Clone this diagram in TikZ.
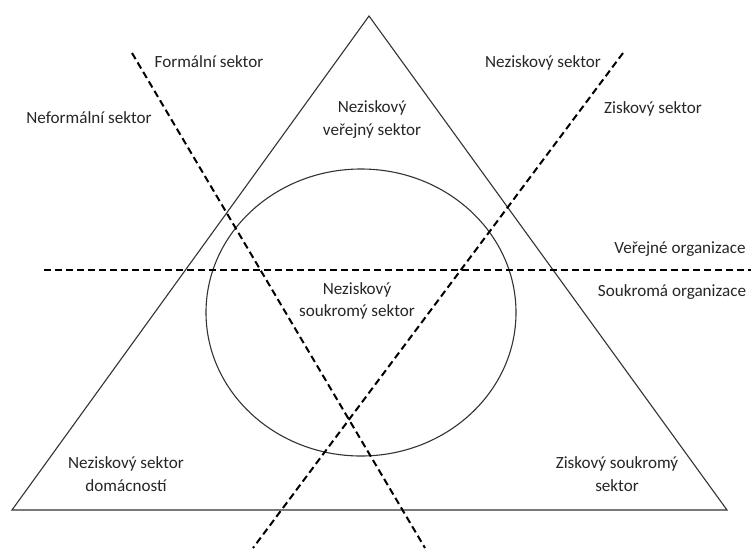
\documentclass[tikz,border=0pt]{standalone}
\usepackage{fontspec}
\setmainfont{Carlito}
\usetikzlibrary{shapes.geometric}
\begin{document}
\begin{tikzpicture}[x=1pt,y=-1pt,
  lbl/.style={align=center,inner sep=0pt,font=\fontsize{17.1}{22.5}\selectfont,text=black!85},
  solidline/.style={line width=1.1pt,draw=black!80},
  dashline/.style={line width=2pt,draw=black,dash pattern=on 7pt off 4pt}]
\useasboundingbox (0,0) rectangle (751,550);
% triangle
\coordinate (apex) at (369,16);
\coordinate (bl) at (12,510);
\coordinate (br) at (727,510);
\draw[solidline,line join=miter] (apex) -- (bl) -- (br) -- cycle;
% ellipse
\node[solidline,draw,ellipse,minimum width=310pt,minimum height=287pt,inner sep=0pt] (circ) at (361,312.5) {};
% dashed lines
\coordinate (d1a) at (132,53);
\coordinate (d1b) at (425,548);
\coordinate (d2a) at (623,53);
\coordinate (d2b) at (253,548);
\coordinate (h1) at (44,269.5);
\coordinate (h2) at (751,269.5);
\draw[dashline] (d1a) -- (d1b);
\draw[dashline] (d2a) -- (d2b);
\draw[dashline] (h1) -- (h2);
% labels
\node[lbl,anchor=base] (formal) at (209,67) {Formální sektor};
\node[lbl,anchor=base] (neformal) at (89,123) {Neformální sektor};
\node[lbl,anchor=base] (nezisk) at (543,67) {Neziskový sektor};
\node[lbl,anchor=base] (zisk) at (653,113) {Ziskový sektor};
\node[lbl,anchor=base] (verorg) at (680,253) {Veřejné organizace};
\node[lbl,anchor=base] (soukorg) at (672,296) {Soukromá organizace};
\node[lbl] (nvs) at (372,119.5) {Neziskový\\veřejný sektor};
\node[lbl] (nss) at (357,301) {Neziskový\\soukromý sektor};
\node[lbl] (nsd) at (126,474) {Neziskový sektor\\domácností};
\node[lbl] (zss) at (617,474) {Ziskový soukromý\\sektor};
\end{tikzpicture}
\end{document}
